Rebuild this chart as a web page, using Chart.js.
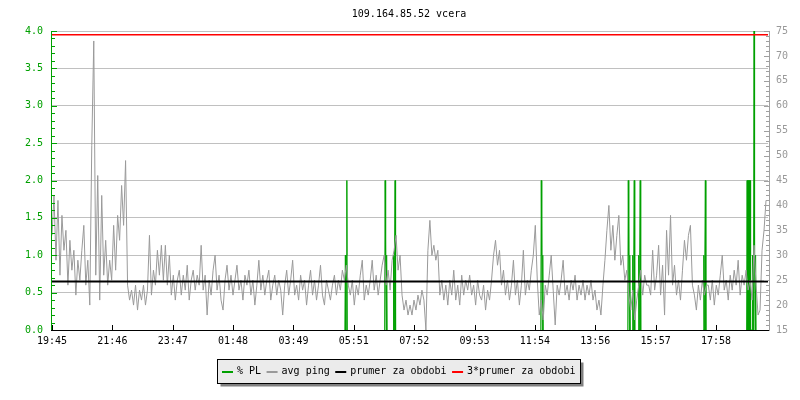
<!DOCTYPE html>
<html>
<head>
<meta charset="utf-8">
<script src="https://cdn.jsdelivr.net/npm/chart.js@4.4.1/dist/chart.umd.min.js"></script>
<style>
    body { margin: 0; background: #fff; }
    #wrap { width: 800px; height: 400px; }
</style>
</head>
<body>
<div id="wrap"><canvas id="chart" width="800" height="400"></canvas></div>
<script>
        // ── Data ───────────────────────────────────
        const chartTitle = '109.164.85.52 vcera';
        const timeLabels = ['19:45','21:46','23:47','01:48','03:49','05:51','07:52','09:53','11:54','13:56','15:57','17:58'];
        const labelStepMin = 121.4;   // minutes between time labels
        const spanMin = 1440;         // whole day
        const pingStepMin = 4;        // one avg ping sample every 4 minutes

        // avg ping [ms], one row per two hours
        const avgPing = [
            34,42,29,41,26,38,31,35,24,33, 27,31,22,29,25,31,36,24,29,20, 52,73,26,46,21,42,26,33,24,29,
            25,36,27,38,33,44,36,49,24,21, 23,20,24,19,23,21,24,20,23,34, 22,27,24,31,26,32,25,32,24,30,
            22,26,21,25,27,22,26,23,28,21, 25,27,23,26,24,32,23,26,18,25, 22,27,30,23,26,21,19,25,28,23,
            26,22,25,28,23,25,21,26,24,27, 22,25,20,24,29,23,26,22,25,27, 21,24,26,22,25,23,18,24,27,22,
            25,29,22,24,21,26,23,25,20,24, 27,22,25,21,24,28,22,20,25,23, 21,24,26,22,25,23,27,25,28,24,
            22,25,20,24,22,26,29,21,24,22, 25,29,23,26,22,25,28,30,24,27, 23,29,31,34,27,30,22,19,21,18,
            20,18,21,19,22,20,23,21,15,31, 37,30,32,29,31,22,25,21,24,20, 25,22,27,21,24,20,26,22,25,23,
            26,22,24,20,25,22,21,24,19,23, 21,25,30,33,28,31,24,27,22,25, 21,24,29,22,25,20,24,31,22,25,
            23,27,30,36,25,18,21,17,24,22, 26,30,23,16,24,22,25,29,22,24, 21,25,23,26,21,24,22,25,21,24,
            22,25,21,23,19,21,18,24,29,35, 40,31,36,29,34,38,28,30,25,27, 22,19,23,17,21,24,27,22,26,24,
            24,22,31,23,26,32,22,28,18,35, 26,38,24,28,22,25,21,27,33,29, 34,36,24,22,19,24,21,25,22,24,
            24,21,25,20,24,22,26,30,23,25, 21,26,23,27,24,29,22,26,24,27, 23,25,21,32,24,18,19,31,35,41
        ];

        // packet loss [%] bursts, one sample per minute; null breaks the line
        const plMinutes = [
            589,590,591,592,593,594,595,
            669,670,671,672,673,674,675,
            686,687,688,689,690,691,692,
            983,984,985,986,987,988,989,
            1158,1159,1160,1161,1162,1163,1164,
            1167,1168,1169,1170,1171,1172,1173,
            1179,1180,1181,1182,1183,1184,1185,
            1310,1311,1312,1313,1314,1315,1316,
            1397,1398,1399,1400,1401,1402,1403,1404,1405,1408,1409,1410,1411,1412,1413,1414,1415,1416,1417
        ];
        const plValues = [
            0,1,0,1,2,0,null,
            0,2,1,0,1,0,null,
            0,1,0,1,2,0,null,
            0,2,1,0,1,0,null,
            0,2,1,0,1,0,null,
            0,1,0,1,2,0,null,
            0,1,0,1,2,0,null,
            0,1,0,1,2,0,null,
            0,2,0,2,0,2,0,2,0,0,1,0,1,4,1,0,1,0,null
        ];

        const periodMean = 24.75;   // ms
        const legendLabels = ['% PL', 'avg ping', 'prumer za obdobi', '3*prumer za obdobi'];

        // ── Styles ─────────────────────────────────
        const FONT = '10px "DejaVu Sans Mono", monospace';
        const GREEN = '#00a000';
        const GRAY = '#9a9a9a';

        // ── Plugins ────────────────────────────────
        const titlePlugin = {
            id: 'rrdTitle',
            afterDraw(chart) {
                const c = chart.ctx;
                c.save();
                c.font = FONT;
                c.fillStyle = '#000';
                c.textAlign = 'center';
                c.textBaseline = 'middle';
                c.fillText(chartTitle, 409, 14);
                c.restore();
            }
        };

        const axesPlugin = {
            id: 'rrdAxes',
            afterDatasetsDraw(chart) {
                const { ctx: c, chartArea: a, scales } = chart;
                c.save();
                c.lineWidth = 1;

                // left axis (% PL), ticks every 0.1
                c.strokeStyle = GREEN;
                c.beginPath();
                c.moveTo(a.left - 0.5, a.top);
                c.lineTo(a.left - 0.5, a.bottom);
                for (let i = 0; i <= 40; i++) {
                    const y = Math.round(scales.yPL.getPixelForValue(i / 10)) + 0.5;
                    c.moveTo(a.left - 1, y);
                    c.lineTo(a.left + (i % 5 === 0 ? 5 : 3), y);
                }
                c.stroke();

                // right axis (ms), ticks every 1 ms
                c.strokeStyle = '#a0a0a0';
                c.beginPath();
                c.moveTo(a.right + 1.5, a.top);
                c.lineTo(a.right + 1.5, a.bottom);
                for (let v = 15; v <= 75; v++) {
                    const y = Math.round(scales.yMs.getPixelForValue(v)) + 0.5;
                    c.moveTo(a.right + 2, y);
                    c.lineTo(a.right + 1 - (v % 5 === 0 ? 5 : 3), y);
                }
                c.stroke();

                // time axis
                c.strokeStyle = '#000';
                c.beginPath();
                c.moveTo(a.left - 1, a.bottom + 0.5);
                c.lineTo(a.right + 1, a.bottom + 0.5);
                scales.x.ticks.forEach(t => {
                    const x = Math.round(scales.x.getPixelForValue(t.value)) + 0.5;
                    c.moveTo(x, a.bottom);
                    c.lineTo(x, a.bottom - 5);
                });
                c.stroke();
                c.restore();
            }
        };

        const legendPlugin = {
            id: 'boxLegend',
            afterDraw(chart) {
                const c = chart.ctx;
                const x0 = 217.5, y0 = 359.5, w = 363, h = 24;
                c.save();
                c.fillStyle = '#808080';
                c.fillRect(x0 + 3, y0 + 3, w, h);
                c.fillStyle = '#ebebeb';
                c.fillRect(x0, y0, w, h);
                c.strokeStyle = '#000';
                c.lineWidth = 1;
                c.strokeRect(x0, y0, w, h);

                c.font = FONT;
                c.textBaseline = 'middle';
                let x = x0 + 4.5;
                chart.data.datasets.forEach(ds => {
                    c.fillStyle = ds.borderColor;
                    c.fillRect(x, 371, 11, 2);
                    x += 15;
                    c.fillStyle = '#000';
                    c.fillText(ds.label, x, 371.5);
                    x += c.measureText(ds.label).width + 5.5;
                });
                c.restore();
            }
        };

        // ── Chart ──────────────────────────────────
        const pingPoints = avgPing.map((v, i) => ({ x: i * pingStepMin, y: v }));
        const plPoints = plMinutes.map((m, i) => ({ x: m, y: plValues[i] }));

        new Chart(document.getElementById('chart').getContext('2d'), {
            type: 'line',
            data: {
                datasets: [
                    { label: legendLabels[0], data: plPoints, yAxisID: 'yPL', borderColor: GREEN, borderWidth: 1, pointRadius: 0, spanGaps: false, order: 4 },
                    { label: legendLabels[1], data: pingPoints, yAxisID: 'yMs', borderColor: GRAY, borderWidth: 1, pointRadius: 0, order: 3 },
                    { label: legendLabels[2], data: [{ x: 0, y: periodMean }, { x: spanMin, y: periodMean }], yAxisID: 'yMs', borderColor: '#000', borderWidth: 2, pointRadius: 0, order: 2 },
                    { label: legendLabels[3], data: [{ x: 0, y: 3 * periodMean }, { x: spanMin, y: 3 * periodMean }], yAxisID: 'yMs', borderColor: '#ff0000', borderWidth: 1.5, pointRadius: 0, order: 1 }
                ]
            },
            options: {
                responsive: false,
                animation: false,
                events: [],
                layout: { padding: { top: 31 } },
                plugins: { legend: { display: false }, tooltip: { enabled: false }, title: { display: false } },
                scales: {
                    x: {
                        type: 'linear', min: 0, max: spanMin,
                        afterBuildTicks: s => { s.ticks = timeLabels.map((l, i) => ({ value: i * labelStepMin })); },
                        afterFit: s => { s.height = 70; },
                        ticks: { callback: (v, i) => timeLabels[i], color: '#000', font: { family: '"DejaVu Sans Mono"', size: 10 }, padding: 5, maxRotation: 0, autoSkip: false },
                        grid: { display: false, drawTicks: false },
                        border: { display: false }
                    },
                    yPL: {
                        position: 'left', min: 0, max: 4,
                        afterFit: s => { s.width = 52; },
                        ticks: { stepSize: 0.5, callback: v => v.toFixed(1), color: GREEN, font: { family: '"DejaVu Sans Mono"', size: 10 }, padding: 9 },
                        grid: { color: '#c0c0c0', drawTicks: false },
                        border: { display: false }
                    },
                    yMs: {
                        position: 'right', min: 15, max: 75,
                        afterFit: s => { s.width = 32; },
                        ticks: { stepSize: 5, color: '#999', font: { family: '"DejaVu Sans Mono"', size: 10 }, padding: 8 },
                        grid: { display: false, drawTicks: false },
                        border: { display: false }
                    }
                }
            },
            plugins: [axesPlugin, titlePlugin, legendPlugin]
        });
</script>
</body>
</html>
